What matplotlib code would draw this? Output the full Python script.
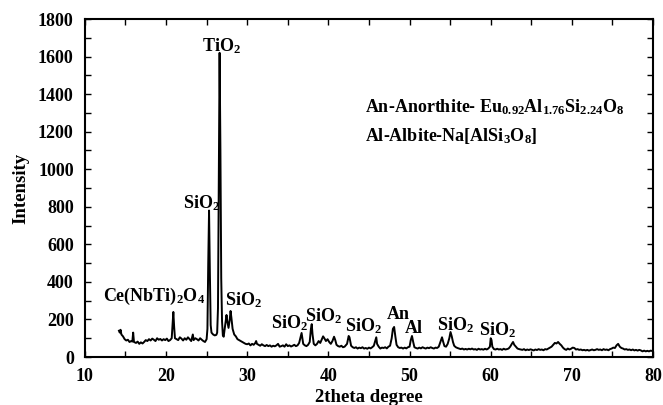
import numpy as np
import matplotlib
matplotlib.use('Agg')
import matplotlib.pyplot as plt
from matplotlib.ticker import MultipleLocator

# XRD scan, (2theta, counts) pairs
scan_low = [
    (14.2, 140), (14.3, 130), (14.4, 145), (14.5, 120), (14.7, 110), (14.9, 95),
    (15.1, 88), (15.3, 92), (15.5, 80), (15.7, 85), (15.85, 82), (15.95, 130),
    (16.05, 80), (16.3, 75), (16.5, 82), (16.7, 70), (16.9, 78), (17.1, 72),
    (17.3, 80), (17.5, 90), (17.7, 85), (17.9, 95), (18.1, 88), (18.3, 98),
    (18.5, 92), (18.7, 85), (18.9, 100), (19.1, 92), (19.3, 96), (19.5, 88),
    (19.7, 95), (19.9, 90), (20.1, 98), (20.3, 85), (20.5, 90), (20.7, 100),
    (20.8, 170), (20.9, 240), (21.0, 160), (21.1, 100), (21.3, 95), (21.5, 90),
    (21.7, 105), (21.9, 98), (22.1, 88), (22.3, 100), (22.5, 92), (22.7, 105),
    (22.9, 95), (23.1, 85), (23.3, 120), (23.4, 90), (23.6, 100), (23.8, 95),
    (24.0, 88), (24.2, 100), (24.4, 92), (24.6, 85), (24.8, 80), (25.0, 95),
    (25.1, 150), (25.2, 500), (25.3, 780), (25.4, 450), (25.5, 170), (25.6, 130),
    (25.8, 120), (26.0, 115), (26.2, 118), (26.3, 130), (26.4, 260), (26.5, 900),
    (26.6, 1620), (26.7, 1100), (26.8, 420), (26.9, 190), (27.0, 115), (27.1, 108),
    (27.2, 140), (27.3, 175), (27.45, 224), (27.55, 190), (27.7, 155), (27.85, 200),
    (27.95, 245), (28.05, 210), (28.2, 150), (28.4, 120), (28.6, 110), (28.8, 95),
    (29.0, 90), (29.2, 85), (29.4, 80), (29.6, 75), (29.8, 70),
]
scan_mid = [
    (30.0, 68), (30.2, 72), (30.4, 62), (30.6, 70), (30.8, 65), (31.0, 75),
    (31.1, 85), (31.2, 70), (31.4, 65), (31.6, 60), (31.8, 68), (32.0, 62),
    (32.2, 58), (32.4, 64), (32.6, 58), (32.8, 62), (33.0, 55), (33.2, 60),
    (33.4, 57), (33.6, 62), (33.8, 70), (34.0, 55), (34.2, 58), (34.4, 62),
    (34.6, 55), (34.8, 68), (35.0, 58), (35.2, 62), (35.4, 56), (35.6, 60),
    (35.8, 65), (36.0, 58), (36.2, 62), (36.4, 75), (36.6, 110), (36.7, 128),
    (36.8, 100), (36.9, 70), (37.1, 62), (37.3, 58), (37.5, 65), (37.7, 80),
    (37.85, 150), (37.95, 175), (38.05, 120), (38.2, 70), (38.4, 62), (38.6, 70),
    (38.8, 85), (39.0, 75), (39.2, 95), (39.35, 110), (39.5, 100), (39.7, 85),
    (39.9, 95), (40.1, 80), (40.3, 70), (40.5, 85), (40.7, 108), (40.85, 90),
    (41.0, 65), (41.2, 58), (41.4, 55), (41.6, 60), (41.8, 52), (42.0, 55),
    (42.3, 70), (42.5, 112), (42.6, 105), (42.8, 60), (43.0, 52), (43.2, 48),
    (43.4, 52), (43.6, 45), (43.8, 50), (44.0, 47), (44.2, 52), (44.4, 45),
    (44.6, 48), (44.8, 44), (45.0, 50), (45.2, 46), (45.4, 52), (45.6, 60),
    (45.8, 90), (45.9, 105), (46.0, 70), (46.2, 55), (46.4, 45), (46.6, 50),
    (46.8, 48), (47.0, 52), (47.2, 46), (47.4, 55), (47.6, 60), (47.8, 100),
    (47.95, 150), (48.1, 160), (48.25, 110), (48.4, 65), (48.6, 52), (48.8, 48),
    (49.0, 50), (49.2, 45), (49.4, 50), (49.6, 46), (49.8, 52),
]
scan_high = [
    (50.0, 55), (50.15, 90), (50.3, 112), (50.45, 80), (50.6, 52), (50.8, 48),
    (51.0, 45), (51.2, 50), (51.4, 46), (51.6, 52), (51.8, 48), (52.0, 45),
    (52.2, 50), (52.4, 47), (52.6, 52), (52.8, 48), (53.0, 45), (53.2, 50),
    (53.4, 48), (53.6, 55), (53.8, 80), (54.0, 105), (54.15, 80), (54.3, 58),
    (54.5, 55), (54.7, 70), (54.9, 100), (55.05, 133), (55.2, 110), (55.35, 80),
    (55.5, 60), (55.7, 52), (55.9, 48), (56.1, 45), (56.3, 42), (56.5, 45),
    (56.7, 40), (56.9, 43), (57.1, 40), (57.3, 44), (57.5, 41), (57.7, 45),
    (57.9, 40), (58.1, 42), (58.3, 38), (58.5, 44), (58.7, 40), (58.9, 42),
    (59.1, 39), (59.3, 44), (59.5, 40), (59.7, 45), (59.9, 55), (60.0, 100),
    (60.1, 90), (60.2, 55), (60.4, 42), (60.6, 40), (60.8, 44), (61.0, 40),
    (61.2, 42), (61.4, 38), (61.6, 44), (61.8, 40), (62.0, 42), (62.2, 45),
    (62.4, 55), (62.6, 70), (62.75, 80), (62.9, 65), (63.1, 55), (63.3, 45),
    (63.5, 42), (63.7, 40), (63.9, 38), (64.1, 42), (64.3, 36), (64.5, 40),
    (64.7, 37), (64.9, 41), (65.1, 38), (65.3, 35), (65.5, 40), (65.7, 37),
    (65.9, 42), (66.1, 38), (66.3, 40), (66.5, 36), (66.7, 42), (66.9, 40),
    (67.1, 45), (67.3, 50), (67.5, 55), (67.7, 65), (67.9, 75), (68.1, 72),
    (68.3, 80), (68.5, 70), (68.7, 62), (68.9, 50), (69.1, 42), (69.3, 38),
    (69.5, 45), (69.7, 40), (69.9, 44), (70.1, 50), (70.3, 48), (70.5, 40),
    (70.7, 42), (70.9, 38), (71.1, 40), (71.3, 36), (71.5, 38), (71.7, 35),
    (71.9, 38), (72.1, 34), (72.3, 37), (72.5, 40), (72.7, 36), (72.9, 38),
    (73.1, 42), (73.3, 38), (73.5, 40), (73.7, 36), (73.9, 42), (74.1, 38),
    (74.3, 40), (74.5, 36), (74.7, 42), (74.9, 45), (75.1, 50), (75.3, 48),
    (75.5, 62), (75.7, 70), (75.9, 55), (76.1, 48), (76.3, 45), (76.5, 40),
    (76.7, 42), (76.9, 38), (77.1, 40), (77.3, 36), (77.5, 40), (77.7, 35),
    (77.9, 38), (78.1, 34), (78.3, 38), (78.5, 35), (78.7, 30), (78.9, 34),
    (79.1, 30), (79.3, 33), (79.5, 30), (79.7, 34), (79.9, 32),
]

# phase labels: text, 2theta (left edge), intensity (middle)
peak_labels = ['Ce(NbTi)$_2$O$_4$', 'SiO$_2$', 'TiO$_2$', 'SiO$_2$', 'SiO$_2$',
               'SiO$_2$', 'SiO$_2$', 'An', 'Al', 'SiO$_2$', 'SiO$_2$']
label_x = [12.2, 22.1, 24.4, 27.3, 32.9, 37.1, 42.1, 47.2, 49.4, 53.4, 58.6]
label_y = [325, 820, 1656, 303, 180, 218, 165, 224, 150, 170, 144]

legend_lines = ['An-Anorthite- Eu$_{0.92}$Al$_{1.76}$Si$_{2.24}$O$_8$',
                'Al-Albite-Na[AlSi$_3$O$_8$]']
legend_y = [1331, 1177]

plt.rcParams['font.family'] = ['Liberation Serif', 'DejaVu Serif']
plt.rcParams['font.weight'] = 'bold'
plt.rcParams['mathtext.fontset'] = 'custom'
plt.rcParams['mathtext.rm'] = 'Liberation Serif:bold'
plt.rcParams['mathtext.it'] = 'Liberation Serif:bold'
plt.rcParams['mathtext.bf'] = 'Liberation Serif:bold'
plt.rcParams['mathtext.default'] = 'rm'

data = np.array(scan_low + scan_mid + scan_high)

fig = plt.figure(figsize=(6.63, 4.05), dpi=100)
ax = fig.add_axes([0.128, 0.1185, 0.857, 0.8345])
ax.plot(data[:, 0], data[:, 1], color='black', linewidth=1.4)

for txt, x, y in zip(peak_labels, label_x, label_y):
    ax.text(x, y, txt, fontsize=13, fontweight='bold', ha='left', va='center')
for txt, y in zip(legend_lines, legend_y):
    ax.text(44.5, y, txt, fontsize=13, fontweight='bold', ha='left', va='center')

ax.set_xlim(10, 80)
ax.set_ylim(0, 1800)
ax.xaxis.set_major_locator(MultipleLocator(10))
ax.xaxis.set_minor_locator(MultipleLocator(5))
ax.yaxis.set_major_locator(MultipleLocator(200))
ax.yaxis.set_minor_locator(MultipleLocator(100))
ax.tick_params(which='both', direction='in', top=True, right=True,
               length=4, width=1, labelsize=13)
ax.tick_params(axis='x', which='major', pad=8)
ax.tick_params(axis='y', which='major', pad=8)
for lab in ax.get_xticklabels() + ax.get_yticklabels():
    lab.set_fontweight('bold')
for sp in ax.spines.values():
    sp.set_linewidth(1.5)

ax.set_xlabel('2theta degree', fontsize=13.5, fontweight='bold', labelpad=3)
ax.set_ylabel('Intensity', fontsize=13.5, fontweight='bold', labelpad=6)

fig.savefig('out.png', dpi=100)
